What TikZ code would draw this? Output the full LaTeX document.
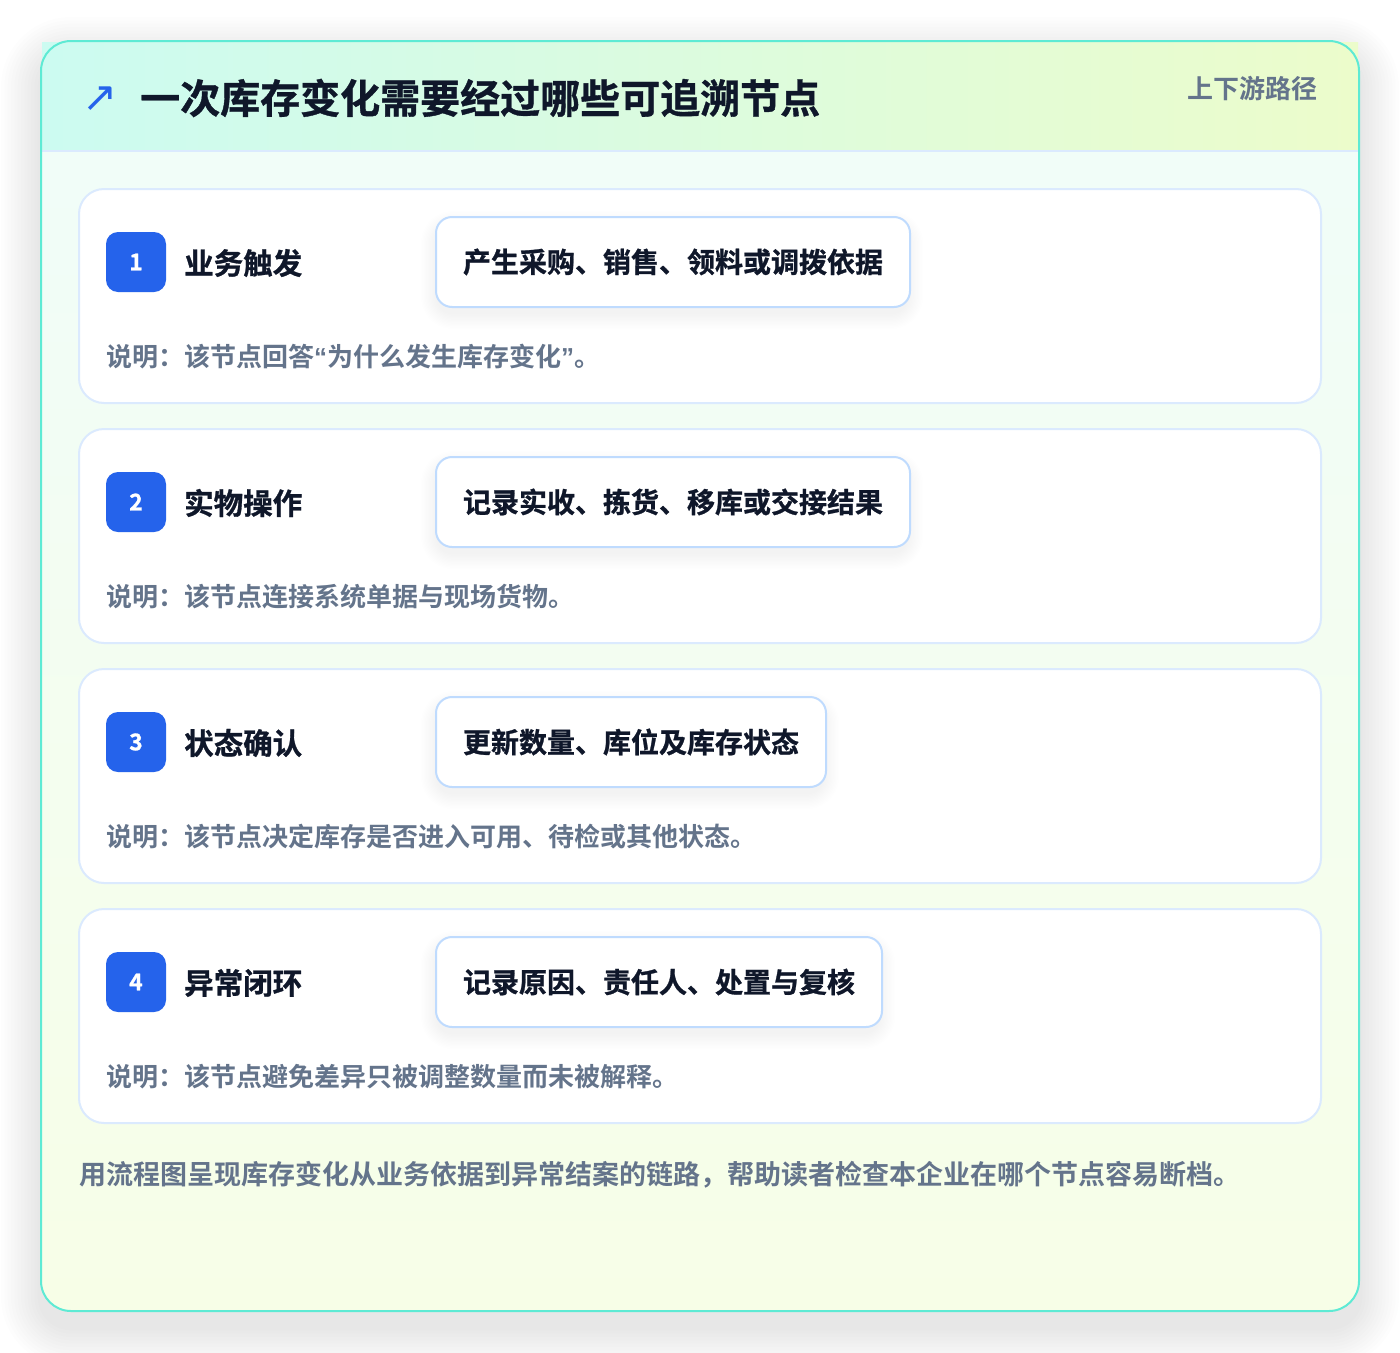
\documentclass[tikz,border=0pt]{standalone}
\usepackage{fontspec}
\setmainfont{Noto Sans CJK SC}[BoldFont={Noto Sans CJK SC Bold}]
\newfontfamily\heavyfont{Noto Sans CJK SC Bold}[FakeBold=0.9]
\newfontfamily\symfont{DejaVu Sans}
\newfontfamily\quotefont{Liberation Sans}
\definecolor{frameborder}{HTML}{5EEAD4}
\definecolor{headl}{HTML}{CCFBF1}
\definecolor{headr}{HTML}{ECFCCB}
\definecolor{bodyt}{HTML}{F0FDFA}
\definecolor{bodyb}{HTML}{F7FEE7}
\definecolor{cardborder}{HTML}{DBEAFE}
\definecolor{boxborder}{HTML}{BFDBFE}
\definecolor{badgeblue}{HTML}{2563EB}
\definecolor{inkdark}{HTML}{0F172A}
\definecolor{inkgray}{HTML}{64748B}
\newcommand\myLq{{\quotefont\bfseries\symbol{"201C}}}
\newcommand\myRq{{\quotefont\bfseries\symbol{"201D}}}
% soft shadow: x1 y1 x2 y2 radius yoffset blur opacity-per-layer
\newcommand\softshadow[8]{%
  \foreach \k in {1,...,12}{%
    \pgfmathsetmacro{\e}{\k*#7/12}%
    \pgfmathsetmacro{\rr}{#5+\e}%
    \fill[black, opacity=#8, rounded corners=\rr pt]
      (#1-\e, #2+#6-\e) rectangle (#3+\e, #4+#6+\e);
  }%
}
\tikzset{
  card/.style={draw=cardborder, line width=2pt, fill=white, rounded corners=25pt},
  badge/.style={fill=badgeblue, rounded corners=12pt, minimum width=60pt, minimum height=60pt, inner sep=0pt,
     text=white, font=\heavyfont\fontsize{23}{27}\selectfont},
  steptitle/.style={anchor=west, inner sep=0pt, text=inkdark, font=\heavyfont\fontsize{29.5}{34}\selectfont},
  actionbox/.style={anchor=west, draw=boxborder, line width=2pt, fill=white, rounded corners=16pt,
     minimum height=90pt, inner xsep=27pt, text=inkdark, font=\heavyfont\fontsize{28}{32}\selectfont},
  desc/.style={anchor=west, inner sep=0pt, text=inkgray, font=\bfseries\fontsize{26}{30}\selectfont},
}
\begin{document}
\begin{tikzpicture}[x=1pt,y=-1pt]
\useasboundingbox (0,0) rectangle (1400,1352);
\fill[white] (0,0) rectangle (1400,1352);
% outer frame shadow
\softshadow{41}{41}{1359}{1311}{30}{16}{40}{0.007}
% frame body
\shade[top color=bodyt, bottom color=bodyb, rounded corners=30pt] (41,41) rectangle (1359,1311);
% header band
\shade[left color=headl, right color=headr] (42,42) rectangle (1358,151);
\draw[cardborder, line width=2pt] (42,151) -- (1358,151);
% frame border
\draw[frameborder, line width=2pt, rounded corners=30pt] (41,41) rectangle (1359,1311);
% header text
\node[anchor=west, inner sep=0pt, text=badgeblue, font=\symfont\fontsize{42}{46}\selectfont] (arrow) at (82,99) {↗};
\node[anchor=west, inner sep=0pt, text=inkdark, font=\heavyfont\fontsize{40}{46}\selectfont] (title) at (140,98) {一次库存变化需要经过哪些可追溯节点};
\node[anchor=east, inner sep=0pt, text=inkgray, font=\bfseries\fontsize{26}{30}\selectfont] (tag) at (1318,89) {上下游路径};
% cards
\foreach \i/\t/\a/\w/\d in {
  1/业务触发/产生采购、销售、领料或调拨依据/474/{说明：该节点回答\myLq 为什么发生库存变化\myRq 。},
  2/实物操作/记录实收、拣货、移库或交接结果/474/说明：该节点连接系统单据与现场货物。,
  3/状态确认/更新数量、库位及库存状态/390/说明：该节点决定库存是否进入可用、待检或其他状态。,
  4/异常闭环/记录原因、责任人、处置与复核/446/说明：该节点避免差异只被调整数量而未被解释。}{
  \pgfmathsetmacro{\ctop}{189+240*(\i-1)}
  \draw[card] (79,\ctop) rectangle (1321,\ctop+214);
  \softshadow{437}{\ctop+30}{433+\w}{\ctop+116}{16}{8}{16}{0.005}
  \node[badge] (badge\i) at (136,\ctop+73) {\i};
  \node[steptitle] (title\i) at (184,\ctop+74) {\t};
  \node[actionbox] (action\i) at (435,\ctop+73) {\a};
  \node[desc] (desc\i) at (106,\ctop+168) {\d};
}
\node[anchor=west, inner sep=0pt, text=inkgray, font=\bfseries\fontsize{27}{31}\selectfont] (footer) at (79,1175)
  {用流程图呈现库存变化从业务依据到异常结案的链路，帮助读者检查本企业在哪个节点容易断档。};
\end{tikzpicture}
\end{document}
